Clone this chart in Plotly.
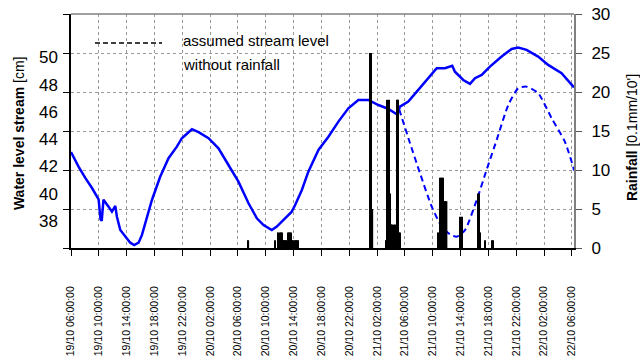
import plotly.graph_objects as go

# ---------------- data ----------------
# water level (cm), solid blue line
level_time = [
    "2006-10-19 06:00", "2006-10-19 07:05", "2006-10-19 08:03", "2006-10-19 09:01", "2006-10-19 09:58",
    "2006-10-19 10:15", "2006-10-19 10:25", "2006-10-19 10:40", "2006-10-19 11:24", "2006-10-19 11:53",
    "2006-10-19 12:22", "2006-10-19 12:36", "2006-10-19 13:05", "2006-10-19 13:48", "2006-10-19 14:31",
    "2006-10-19 15:05", "2006-10-19 15:43", "2006-10-19 16:12", "2006-10-19 16:55", "2006-10-19 17:38",
    "2006-10-19 18:49", "2006-10-19 20:01", "2006-10-19 21:13", "2006-10-19 21:56", "2006-10-19 23:23",
    "2006-10-20 00:20", "2006-10-20 01:46", "2006-10-20 03:12", "2006-10-20 04:38", "2006-10-20 06:04",
    "2006-10-20 07:31", "2006-10-20 08:43", "2006-10-20 09:40", "2006-10-20 10:52", "2006-10-20 11:35",
    "2006-10-20 12:47", "2006-10-20 13:44", "2006-10-20 14:13", "2006-10-20 15:11", "2006-10-20 16:07",
    "2006-10-20 17:34", "2006-10-20 19:00", "2006-10-20 20:26", "2006-10-20 21:52", "2006-10-20 23:18",
    "2006-10-21 00:44", "2006-10-21 01:42", "2006-10-21 02:11", "2006-10-21 03:37", "2006-10-21 04:49",
    "2006-10-21 05:17", "2006-10-21 06:29", "2006-10-21 07:55", "2006-10-21 09:22", "2006-10-21 10:34",
    "2006-10-21 11:45", "2006-10-21 12:48", "2006-10-21 13:11", "2006-10-21 14:23", "2006-10-21 15:21",
    "2006-10-21 16:04", "2006-10-21 17:02", "2006-10-21 18:13", "2006-10-21 19:54", "2006-10-21 21:20",
    "2006-10-21 22:17", "2006-10-21 23:29", "2006-10-22 01:09", "2006-10-22 02:35", "2006-10-22 04:31",
    "2006-10-22 06:11", "2006-10-22 06:18",
]
level_cm = [
    43.06, 41.98, 41.15, 40.41, 39.58,
    38.10, 38.00, 39.55, 39.04, 38.67,
    39.09, 38.30, 37.32, 36.83, 36.39,
    36.22, 36.39, 36.96, 38.18, 39.53,
    41.24, 42.60, 43.45, 44.07, 44.73,
    44.51, 44.07, 43.33, 42.10, 40.88,
    39.29, 38.18, 37.69, 37.32, 37.57,
    38.18, 38.67, 39.16, 40.26, 41.61,
    43.21, 44.18, 45.29, 46.27, 46.88,
    46.88, 46.64, 46.51, 46.22, 45.83,
    46.39, 46.76, 47.62, 48.48, 49.21,
    49.21, 49.40, 48.96, 48.35, 48.06,
    48.48, 48.72, 49.33, 50.07, 50.63,
    50.73, 50.56, 50.07, 49.46, 48.85,
    47.93, 47.80,
]

# assumed stream level without rainfall (cm), dashed blue line
assumed_time = [
    "2006-10-21 05:10", "2006-10-21 06:44", "2006-10-21 08:10", "2006-10-21 09:51", "2006-10-21 11:17",
    "2006-10-21 12:28", "2006-10-21 13:26", "2006-10-21 14:38", "2006-10-21 16:19", "2006-10-21 17:44",
    "2006-10-21 19:11", "2006-10-21 20:51", "2006-10-21 22:17", "2006-10-21 23:29", "2006-10-22 01:09",
    "2006-10-22 03:05", "2006-10-22 04:59", "2006-10-22 06:11", "2006-10-22 06:18",
]
assumed_cm = [
    46.20, 43.70, 41.49, 39.04, 37.57,
    37.01, 36.83, 37.32, 39.53, 41.74,
    43.94, 46.51, 47.74, 47.86, 47.38,
    45.54, 43.82, 41.96, 41.70,
]

# rainfall (0.1 mm / 10 min)
rain_time = [
    "2006-10-20 07:30", "2006-10-20 11:20",
    "2006-10-20 11:50", "2006-10-20 12:00", "2006-10-20 12:10", "2006-10-20 12:20",
    "2006-10-20 12:30", "2006-10-20 12:40", "2006-10-20 12:50", "2006-10-20 13:00",
    "2006-10-20 13:10", "2006-10-20 13:20", "2006-10-20 13:30", "2006-10-20 13:40",
    "2006-10-20 13:50", "2006-10-20 14:00", "2006-10-20 14:10", "2006-10-20 14:20",
    "2006-10-20 14:30", "2006-10-20 14:40",
    "2006-10-21 01:00", "2006-10-21 01:10", "2006-10-21 01:20",
    "2006-10-21 03:20", "2006-10-21 03:30", "2006-10-21 03:40", "2006-10-21 03:50",
    "2006-10-21 04:00", "2006-10-21 04:10", "2006-10-21 04:20", "2006-10-21 04:30",
    "2006-10-21 04:40", "2006-10-21 04:50", "2006-10-21 05:00", "2006-10-21 05:10",
    "2006-10-21 05:20",
    "2006-10-21 10:50", "2006-10-21 11:00", "2006-10-21 11:10", "2006-10-21 11:20",
    "2006-10-21 11:30", "2006-10-21 11:40", "2006-10-21 11:50", "2006-10-21 12:00",
    "2006-10-21 14:00", "2006-10-21 14:10",
    "2006-10-21 16:30", "2006-10-21 16:40", "2006-10-21 16:50",
    "2006-10-21 17:30", "2006-10-21 18:30", "2006-10-21 18:40",
]
rain_val = [
    1, 1,
    2, 2, 2, 2,
    1, 1, 1, 1,
    2, 2, 2, 2,
    1, 1, 1, 1,
    1, 1,
    25, 25, 5,
    1, 19, 19, 7,
    3, 3, 1, 3,
    3, 19, 19, 2,
    2,
    2, 9, 9, 9,
    9, 6, 6, 6,
    4, 4,
    7, 7, 2,
    1, 1, 1,
]

level_ticks = [38, 40, 42, 44, 46, 48, 50]

# ---------------- figure ----------------
FONT = "Liberation Sans, Arial, sans-serif"
GRID = "#9a9a9a"

fig = go.Figure()

# rainfall first on the primary axis so that grid of this subplot is the main one
fig.add_trace(go.Scatter(x=[None], y=[None], yaxis="y", mode="lines", hoverinfo="skip"))
fig.add_trace(go.Scatter(x=level_time, y=level_cm, mode="lines",
                         line=dict(color="#0000ff", width=2.5), yaxis="y2"))
fig.add_trace(go.Scatter(x=assumed_time, y=assumed_cm, mode="lines",
                         line=dict(color="#0000ff", width=2, dash="6px,4px", shape="spline", smoothing=0.6),
                         yaxis="y2"))
fig.add_trace(go.Bar(x=rain_time, y=rain_val, yaxis="y3", marker_color="black",
                     marker_line_width=0, width=720000))

fig.update_layout(
    width=640, height=358,
    margin=dict(l=71, r=66, t=14, b=110, pad=0, autoexpand=False),
    paper_bgcolor="white", plot_bgcolor="white",
    showlegend=False,
    font=dict(family=FONT, color="black"),
    xaxis=dict(
        type="date", automargin=False,
        range=["2006-10-19 06:00", "2006-10-22 06:18"],
        tick0="2006-10-19 06:00", dtick=4 * 3600 * 1000,
        tickformat="%d/%m %H:%M:%S", tickangle=-90,
        ticks="outside", ticklen=6, tickcolor="black", tickwidth=1,
        ticklabelstandoff=26,
        tickfont=dict(size=10.5, family=FONT),
        showline=True, linecolor="black", linewidth=2,
        showgrid=True, gridcolor=GRID, griddash="dot", gridwidth=1,
        zeroline=False,
    ),
    # main (left) axis: only tick marks and the dotted horizontal grid
    yaxis=dict(
        automargin=False, side="left",
        range=[0, 30], dtick=5, ticks="outside", ticklen=6, tickcolor="black",
        showticklabels=False, showline=True, linecolor="black", linewidth=2,
        showgrid=True, gridcolor=GRID, griddash="dot", gridwidth=1, zeroline=False,
    ),
    # water level axis (labels only)
    yaxis2=dict(
        automargin=False, overlaying="y", side="left", anchor="x",
        range=[36, 53.2], tickvals=level_ticks,
        ticks="", showline=False, showgrid=False, zeroline=False,
        tickfont=dict(size=17, family=FONT), ticklabelstandoff=12,
    ),
    # rainfall axis (right)
    yaxis3=dict(
        automargin=False, overlaying="y", side="right", anchor="x",
        range=[0, 30], dtick=5, ticks="outside", ticklen=6, tickcolor="#555555",
        showline=True, linecolor="#808080", linewidth=2,
        showgrid=False, zeroline=False, tickfont=dict(size=17, family=FONT),
        ticklabelstandoff=6,
    ),
    shapes=[
        dict(type="line", xref="paper", yref="paper", x0=0, x1=1, y0=1, y1=1,
             line=dict(color="#808080", width=1.5)),
        dict(type="line", xref="paper", yref="paper", x0=0.0477, x1=0.181, y0=0.876, y1=0.876,
             line=dict(color="black", width=1.5, dash="5px,3px")),
    ],
    annotations=[
        dict(text="assumed stream level", xref="paper", yref="paper", x=0.2187, y=0.885,
             xanchor="left", yanchor="middle", showarrow=False, font=dict(size=15, family=FONT)),
        dict(text="without rainfall", xref="paper", yref="paper", x=0.2187, y=0.786,
             xanchor="left", yanchor="middle", showarrow=False, font=dict(size=15, family=FONT)),
        dict(text="<b>Water level stream</b> [cm]", xref="paper", yref="paper", x=-0.1034, y=0.491,
             xanchor="center", yanchor="middle", textangle=-90, showarrow=False,
             font=dict(size=14, family=FONT)),
        dict(text="<b>Rainfall</b> [0.1mm/10']", xref="paper", yref="paper", x=1.1153, y=0.474,
             xanchor="center", yanchor="middle", textangle=-90, showarrow=False,
             font=dict(size=14, family=FONT)),
    ],
)

fig.write_html("out.html")
